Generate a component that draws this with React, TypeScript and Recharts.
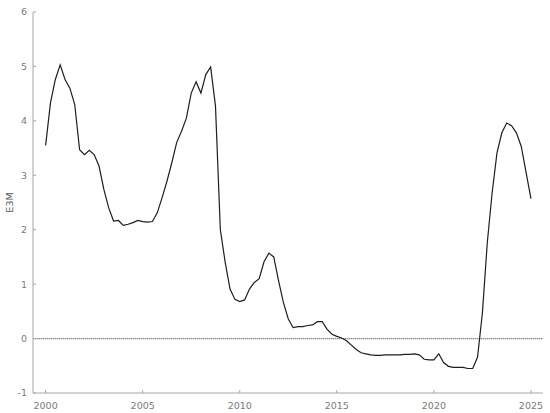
import { LineChart, Line, XAxis, YAxis, ReferenceLine, Label } from "recharts";

// Quarterly E3M readings, one row per year (Q1..Q4), 2000Q1 through 2025Q1.
const START_YEAR = 2000;
const E3M_BY_YEAR: number[][] = [
  [3.55, 4.33, 4.76, 5.03], // 2000
  [4.76, 4.6, 4.3, 3.47],
  [3.38, 3.46, 3.38, 3.17],
  [2.74, 2.4, 2.16, 2.17],
  [2.08, 2.1, 2.13, 2.17],
  [2.15, 2.14, 2.15, 2.31], // 2005
  [2.59, 2.89, 3.23, 3.6],
  [3.81, 4.05, 4.51, 4.72],
  [4.51, 4.85, 4.99, 4.27],
  [2.0, 1.4, 0.91, 0.72],
  [0.68, 0.71, 0.91, 1.03], // 2010
  [1.1, 1.41, 1.57, 1.5],
  [1.06, 0.66, 0.36, 0.2],
  [0.22, 0.22, 0.24, 0.25],
  [0.31, 0.31, 0.17, 0.08],
  [0.04, 0.01, -0.04, -0.12], // 2015
  [-0.2, -0.26, -0.28, -0.3],
  [-0.31, -0.31, -0.3, -0.3],
  [-0.3, -0.3, -0.29, -0.29],
  [-0.28, -0.3, -0.38, -0.39],
  [-0.39, -0.28, -0.44, -0.51], // 2020
  [-0.53, -0.53, -0.53, -0.55],
  [-0.55, -0.34, 0.48, 1.76],
  [2.68, 3.41, 3.78, 3.96],
  [3.91, 3.78, 3.53, 3.05],
  [2.57], // 2025
];

const X_TICKS = [2000, 2005, 2010, 2015, 2020, 2025];
const Y_TICKS = [-1, 0, 1, 2, 3, 4, 5, 6];

const AXIS = "#a6a6a6";
const TEXT = "#7a7a7a";
const FONT = "DejaVu Sans, Verdana, sans-serif";

const data = E3M_BY_YEAR.flatMap((qs, yi) =>
  qs.map((v, qi) => ({ t: START_YEAR + yi + qi / 4, e3m: v }))
);

// ticks point inward, like the original plot
function XTick({ x, y, payload }: any) {
  return (
    <g>
      <line x1={x} x2={x} y1={y} y2={y - 3} stroke={AXIS} />
      <text x={x} y={y + 16} textAnchor="middle" fill={TEXT} fontSize={9.5} fontFamily={FONT}>
        {payload.value}
      </text>
    </g>
  );
}

function YTick({ x, y, payload }: any) {
  return (
    <g>
      <line x1={x} x2={x + 3} y1={y} y2={y} stroke={AXIS} />
      <text x={x - 6} y={y} dy="0.36em" textAnchor="end" fill={TEXT} fontSize={9.5} fontFamily={FONT}>
        {payload.value}
      </text>
    </g>
  );
}

export default function App() {
  return (
    <div style={{ position: "absolute", left: 0, top: 0, background: "#fff" }}>
      <LineChart
        width={550}
        height={413}
        data={data}
        margin={{ top: 12, right: 7, bottom: 0, left: 0 }}
      >
        <XAxis
          dataKey="t"
          type="number"
          domain={[1999.35, 2025.62]}
          ticks={X_TICKS}
          allowDataOverflow
          height={20}
          stroke={AXIS}
          tickLine={false}
          tickSize={0}
          tickMargin={0}
          tick={<XTick />}
        />
        <YAxis
          domain={[-1, 6]}
          ticks={Y_TICKS}
          width={33}
          stroke={AXIS}
          tickLine={false}
          tickSize={0}
          tickMargin={0}
          tick={<YTick />}
        >
          <Label
            position="center"
            content={({ viewBox }: any) => {
              const cy = viewBox.y + viewBox.height / 2;
              return (
                <text
                  x={13}
                  y={cy}
                  transform={`rotate(-90, 13, ${cy})`}
                  textAnchor="middle"
                  fill="#555"
                  fontSize={9.5}
                  fontFamily={FONT}
                >
                  E3M
                </text>
              );
            }}
          />
        </YAxis>
        <ReferenceLine y={0} stroke="#8a8a8a" strokeWidth={1.2} strokeDasharray="1.5 0.5" />
        <Line
          type="linear"
          dataKey="e3m"
          stroke="#1e1e1e"
          strokeWidth={1.2}
          dot={false}
          isAnimationActive={false}
        />
      </LineChart>
    </div>
  );
}
